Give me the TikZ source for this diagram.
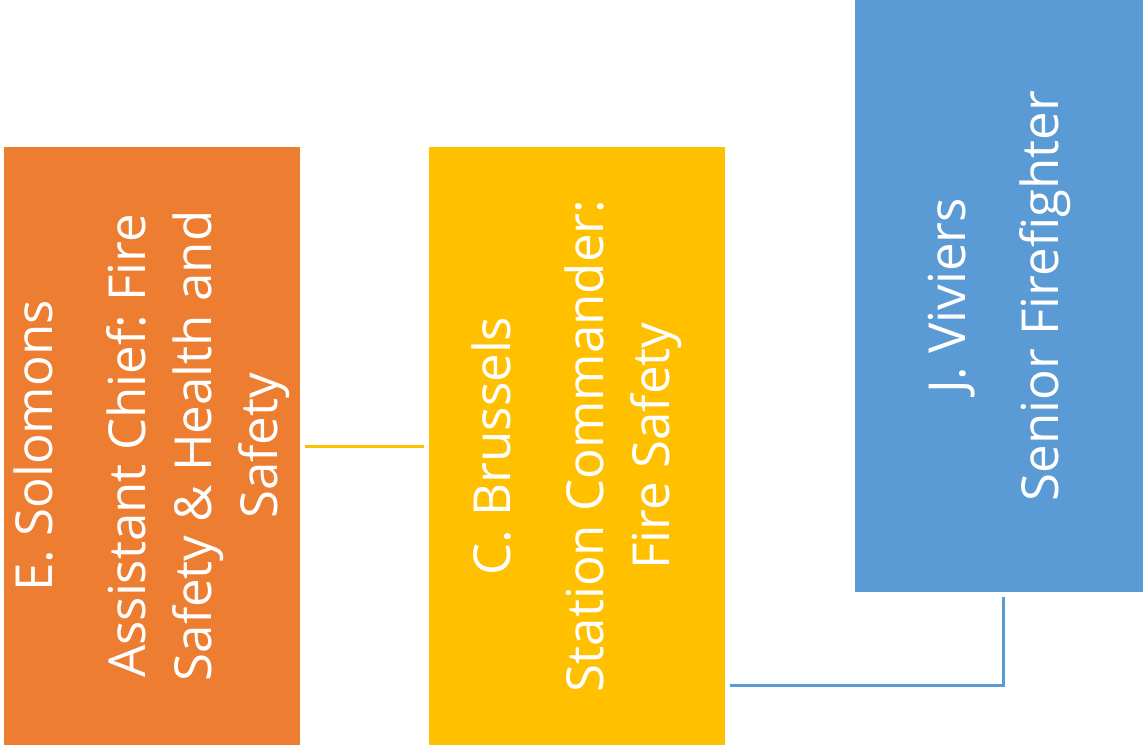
\documentclass[tikz,border=0pt]{standalone}
\usepackage{fontspec}
\setmainfont{Open Sans}
\usepackage{tikz}

\definecolor{chiefor}{HTML}{ED7D31}
\definecolor{cmdyel}{HTML}{FFC000}
\definecolor{ffblue}{HTML}{5B9BD5}

\begin{document}
\begin{tikzpicture}[x=1pt,y=1pt]
  \tikzstyle{post}=[rotate=90,inner sep=0pt,outer sep=0pt,align=center,text=white,
                    font=\fontsize{51}{66}\selectfont]
  \tikzstyle{link}=[line width=3pt,shorten <=5pt,shorten >=5pt]
  \useasboundingbox (0,0) rectangle (1143,748);
  \node[post,fill=chiefor,minimum width=598pt,minimum height=296pt] (solomons) at (152,302)
       {E. Solomons\\[27pt]Assistant Chief:\ Fire\\Safety\ \& Health\ and\\Safety};
  \node[post,fill=cmdyel,minimum width=598pt,minimum height=296pt] (brussels) at (577,302)
       {C. Brussels\\[27pt]Station Commander:\\Fire Safety};
  \node[post,fill=ffblue,minimum width=592pt,minimum height=288pt] (viviers) at (999,452)
       {J. Viviers\\[27pt]Senior\ Firefighter};
  \coordinate (elbow) at (1003,63);
  \draw[link,cmdyel] (solomons.south) -- (brussels.north);
  \draw[link,ffblue] (brussels.south |- elbow) -- (elbow) -- (elbow |- viviers.west);
\end{tikzpicture}
\end{document}
